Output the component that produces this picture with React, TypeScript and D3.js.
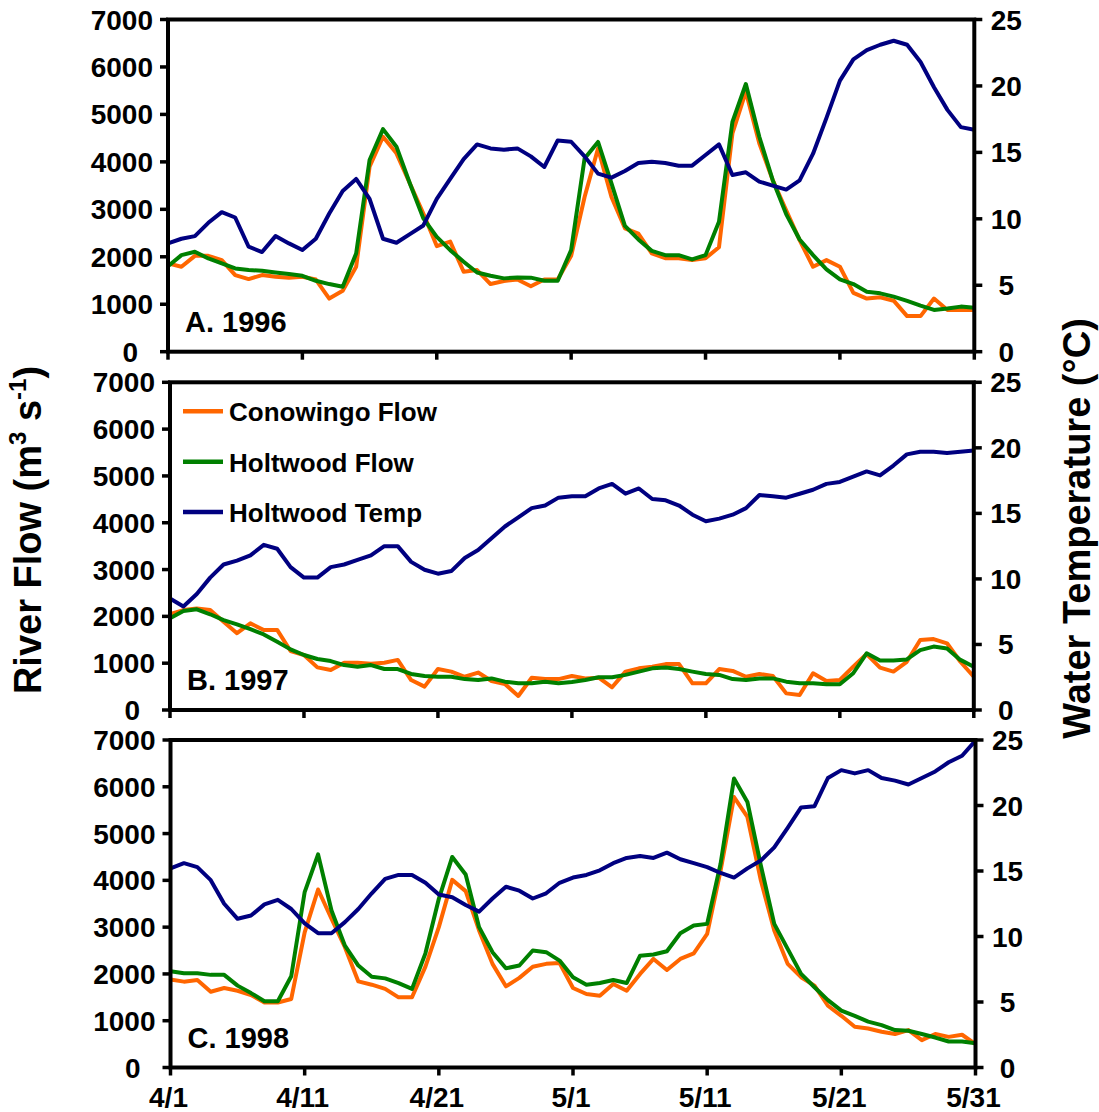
import React from "react";
import * as d3 from "d3";

// Day offsets from April 1 (4/1 .. 5/31)
const dayOffsets = d3.range(0, 61);
const xTickDays = [0, 10, 20, 30, 40, 50, 60];
const xTickLabels = ["4/1", "4/11", "4/21", "5/1", "5/11", "5/21", "5/31"];
const flowTicks = [0, 1000, 2000, 3000, 4000, 5000, 6000, 7000];
const tempTicks = [0, 5, 10, 15, 20, 25];

const seriesNames = ["Conowingo Flow", "Holtwood Flow", "Holtwood Temp"];
const panelLabels = ["A. 1996", "B. 1997", "C. 1998"];

// 1996
const conowingo1996 = [
  1860, 1790, 2020, 2020, 1930, 1615, 1530, 1615, 1580, 1560,
  1580, 1520, 1120, 1285, 1790, 3900, 4530, 4180, 3545, 2910,
  2225, 2320, 1685, 1720, 1425, 1490, 1520, 1380, 1520, 1520,
  2020, 3260, 4280, 3260, 2600, 2490, 2070, 1970, 1970, 1930,
  1970, 2200, 4600, 5480, 4390, 3615, 2980, 2350, 1790, 1930,
  1790, 1240, 1120, 1145, 1075, 750, 750, 1120, 880, 880, 880,
];
const holtwood1996 = [
  1800, 2035, 2105, 1965, 1860, 1755, 1720, 1705, 1670, 1635,
  1600, 1495, 1425, 1370, 2070, 4040, 4690, 4320, 3545, 2810,
  2420, 2140, 1895, 1670, 1600, 1545, 1565, 1560, 1495, 1495,
  2140, 4070, 4420, 3545, 2650, 2365, 2125, 2035, 2035, 1945,
  2035, 2740, 4840, 5640, 4530, 3615, 2900, 2365, 2035, 1735,
  1525, 1425, 1265, 1230, 1160, 1070, 970, 880, 910, 950, 925,
];
const temp1996 = [
  8.15, 8.5, 8.7, 9.7, 10.5, 10.1, 7.9, 7.5, 8.7, 8.15,
  7.65, 8.5, 10.4, 12.1, 13.0, 11.5, 8.5, 8.2, 8.85, 9.5,
  11.5, 13.0, 14.5, 15.6, 15.3, 15.2, 15.3, 14.7, 13.9, 15.9,
  15.8, 14.7, 13.4, 13.1, 13.6, 14.2, 14.3, 14.2, 14.0, 14.0,
  14.8, 15.6, 13.3, 13.5, 12.8, 12.5, 12.2, 12.9, 14.9, 17.6,
  20.4, 22.0, 22.7, 23.1, 23.4, 23.1, 21.8, 19.9, 18.2, 16.9, 16.7,
];

// 1997
const conowingo1997 = [
  2045, 2135, 2170, 2135, 1885, 1640, 1850, 1710, 1710, 1260,
  1175, 910, 855, 1010, 1010, 990, 1010, 1070, 640, 500,
  875, 820, 710, 800, 620, 555, 300, 690, 660, 660,
  725, 675, 690, 485, 820, 890, 925, 980, 980, 570,
  570, 875, 835, 710, 770, 725, 355, 320, 785, 620,
  640, 925, 1195, 905, 820, 1030, 1495, 1515, 1425, 1030, 710,
];
const holtwood1997 = [
  1960, 2115, 2150, 2045, 1920, 1830, 1725, 1615, 1460, 1295,
  1175, 1090, 1045, 960, 925, 960, 875, 875, 770, 725,
  710, 710, 660, 640, 675, 605, 570, 570, 605, 570,
  600, 640, 700, 700, 750, 820, 890, 910, 875, 820,
  770, 750, 660, 640, 675, 675, 605, 570, 570, 550,
  550, 785, 1210, 1055, 1055, 1080, 1280, 1355, 1315, 1070, 925,
];
const temp1997 = [
  8.5, 7.9, 8.85, 10.1, 11.1, 11.4, 11.8, 12.6, 12.3, 10.9,
  10.1, 10.1, 10.9, 11.1, 11.45, 11.8, 12.5, 12.5, 11.3, 10.7,
  10.4, 10.6, 11.6, 12.2, 13.1, 14.0, 14.7, 15.4, 15.6, 16.2,
  16.3, 16.3, 16.9, 17.25, 16.5, 16.9, 16.1, 16.0, 15.6, 14.9,
  14.4, 14.6, 14.9, 15.4, 16.4, 16.3, 16.2, 16.5, 16.8, 17.25,
  17.4, 17.8, 18.2, 17.9, 18.65, 19.5, 19.7, 19.7, 19.6, 19.7, 19.8,
];

// 1998
const conowingo1998 = [
  1880, 1835, 1870, 1620, 1700, 1640, 1550, 1390, 1390, 1465,
  2890, 3805, 3180, 2570, 1840, 1770, 1680, 1500, 1500, 2155,
  3000, 4010, 3770, 2930, 2215, 1735, 1915, 2155, 2215, 2235,
  1700, 1570, 1535, 1785, 1640, 2000, 2320, 2085, 2320, 2440,
  2855, 4210, 5780, 5355, 4000, 2930, 2215, 1930, 1750, 1320,
  1105, 870, 835, 765, 715, 800, 585, 715, 655, 700, 500,
];
const holtwood1998 = [
  2055, 2015, 2015, 1980, 1980, 1750, 1590, 1415, 1415, 1950,
  3750, 4555, 3355, 2605, 2180, 1940, 1905, 1805, 1680, 2440,
  3605, 4500, 4125, 3000, 2465, 2120, 2180, 2500, 2465, 2285,
  1930, 1770, 1805, 1870, 1805, 2390, 2415, 2485, 2870, 3035,
  3070, 4355, 6175, 5675, 4320, 3070, 2535, 2000, 1715, 1440,
  1215, 1105, 980, 905, 800, 785, 715, 640, 555, 555, 520,
];
const temp1998 = [
  15.2, 15.6, 15.3, 14.3, 12.5, 11.35, 11.6, 12.45, 12.8, 12.1,
  11.0, 10.25, 10.25, 11.1, 12.1, 13.3, 14.4, 14.7, 14.7, 14.1,
  13.2, 13.0, 12.4, 11.9, 12.9, 13.8, 13.5, 12.9, 13.3, 14.1,
  14.5, 14.7, 15.05, 15.6, 16.0, 16.15, 16.0, 16.4, 15.9, 15.6,
  15.3, 14.85, 14.5, 15.2, 15.8, 16.8, 18.3, 19.85, 19.95, 22.1,
  22.7, 22.45, 22.7, 22.1, 21.9, 21.6, 22.1, 22.6, 23.3, 23.8, 24.95,
];

const FONT = "'Liberation Sans', Arial, Helvetica, sans-serif";
const ORANGE = "#FF6600";
const GREEN = "#008000";
const NAVY = "#000080";
const seriesColors = [ORANGE, GREEN, NAVY];

const panels = [
  { label: panelLabels[0], con: conowingo1996, hol: holtwood1996, temp: temp1996, left: 168, right: 974.3, top: 19.5, bottom: 351.7, legend: false, xLabels: false },
  { label: panelLabels[1], con: conowingo1997, hol: holtwood1997, temp: temp1997, left: 170, right: 973.8, top: 382.3, bottom: 710, legend: true, xLabels: false },
  { label: panelLabels[2], con: conowingo1998, hol: holtwood1998, temp: temp1998, left: 170.5, right: 975.5, top: 740, bottom: 1067.5, legend: false, xLabels: true },
];

function Panel(p: any) {
  const x = d3.scaleLinear().domain([0, 60]).range([p.left, p.right]);
  const yF = d3.scaleLinear().domain([0, 7000]).range([p.bottom, p.top]);
  const yT = d3.scaleLinear().domain([0, 25]).range([p.bottom, p.top]);
  const lineF = d3.line<number>().x((_, i) => x(dayOffsets[i])).y((d) => yF(d));
  const lineT = d3.line<number>().x((_, i) => x(dayOffsets[i])).y((d) => yT(d));
  const lw = 4;
  return (
    <g>
      <path d={lineF(p.con) || ""} fill="none" stroke={ORANGE} strokeWidth={lw} strokeLinejoin="round" />
      <path d={lineF(p.hol) || ""} fill="none" stroke={GREEN} strokeWidth={lw} strokeLinejoin="round" />
      <path d={lineT(p.temp) || ""} fill="none" stroke={NAVY} strokeWidth={lw} strokeLinejoin="round" />
      <rect x={p.left} y={p.top} width={p.right - p.left} height={p.bottom - p.top} fill="none" stroke="#000" strokeWidth={4} />
      {flowTicks.map((t) => (
        <g key={"f" + t}>
          <line x1={p.left - 8} x2={p.left} y1={yF(t)} y2={yF(t)} stroke="#000" strokeWidth={3.5} />
          <text x={t === 0 ? p.left - 30 : p.left - 15} y={yF(t) + 10} textAnchor="end" fontSize={28} fontWeight="bold" fontFamily={FONT}>{t}</text>
        </g>
      ))}
      {tempTicks.map((t) => (
        <g key={"t" + t}>
          <line x1={p.right} x2={p.right + 8} y1={yT(t)} y2={yT(t)} stroke="#000" strokeWidth={3.5} />
          <text x={p.right + 32} y={yT(t) + 10} textAnchor="middle" fontSize={28} fontWeight="bold" fontFamily={FONT}>{t}</text>
        </g>
      ))}
      {xTickDays.map((d, i) => (
        <g key={"x" + d}>
          <line x1={x(d)} x2={x(d)} y1={p.bottom} y2={p.bottom + 8} stroke="#000" strokeWidth={3.5} />
          {p.xLabels && (
            <text x={x(d) - 2} y={p.bottom + 39} textAnchor="middle" fontSize={28} fontWeight="bold" fontFamily={FONT}>{xTickLabels[i]}</text>
          )}
        </g>
      ))}
      <text x={p.left + 17} y={p.bottom - 20} fontSize={29} fontWeight="bold" fontFamily={FONT}>{p.label}</text>
      {p.legend && seriesNames.map((n, i) => (
        <g key={n}>
          <line x1={p.left + 13} x2={p.left + 53} y1={p.top + 29 + i * 50.4} y2={p.top + 29 + i * 50.4} stroke={seriesColors[i]} strokeWidth={4.5} />
          <text x={p.left + 59} y={p.top + 39 + i * 50.4} fontSize={26} fontWeight="bold" fontFamily={FONT}>{n}</text>
        </g>
      ))}
    </g>
  );
}

export default function App() {
  return (
    <svg width={1099} height={1112} style={{ position: "absolute", left: 0, top: 0, background: "#fff" }}>
      <rect x={0} y={0} width={1099} height={1112} fill="#fff" />
      {panels.map((p) => (
        <Panel key={p.label} {...p} />
      ))}
      <text transform="translate(41,530) rotate(-90)" textAnchor="middle" fontSize={38} fontWeight="bold" fontFamily={FONT}>
        River Flow (m<tspan dy={-15} fontSize={24}>3</tspan><tspan dy={15}> s</tspan><tspan dy={-15} fontSize={24}>-1</tspan><tspan dy={15}>)</tspan>
      </text>
      <text transform="translate(1090,528.5) rotate(-90)" textAnchor="middle" fontSize={38} fontWeight="bold" fontFamily={FONT}>
        Water Temperature (°C)
      </text>
    </svg>
  );
}
